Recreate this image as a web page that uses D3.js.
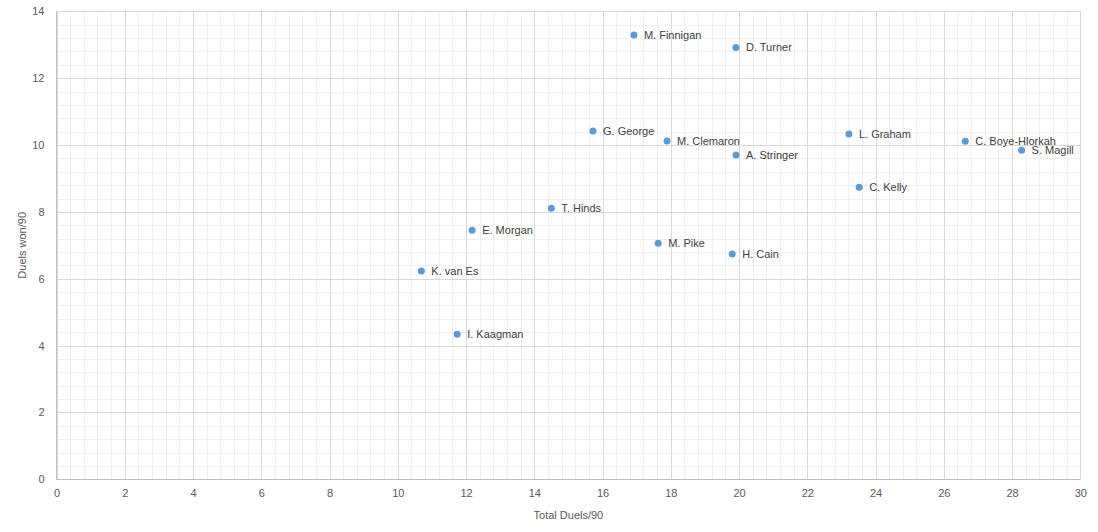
<!DOCTYPE html>
<html><head><meta charset="utf-8">
<script src="https://cdn.jsdelivr.net/npm/d3@7"></script>
<style>body{margin:0;background:#fff}svg{display:block}text{font-family:"Liberation Sans",Arial,sans-serif}</style>
</head><body><svg id="c" width="1098" height="532"></svg>
<script>
const players = ["M. Finnigan","D. Turner","G. George","M. Clemaron","A. Stringer","L. Graham","C. Boye-Hlorkah","S. Magill","C. Kelly","T. Hinds","E. Morgan","M. Pike","H. Cain","K. van Es","I. Kaagman"];
const totalDuels = [16.92,19.91,15.72,17.89,19.91,23.22,26.63,28.28,23.52,14.50,12.18,17.63,19.80,10.69,11.74];
const duelsWon = [13.29,12.92,10.42,10.12,9.70,10.33,10.11,9.84,8.74,8.11,7.45,7.06,6.74,6.23,4.34];
const xTicks = [0,2,4,6,8,10,12,14,16,18,20,22,24,26,28,30];
const yTicks = [0,2,4,6,8,10,12,14];
const xTitle = "Total Duels/90", yTitle = "Duels won/90";

const svg = d3.select("#c");
const L=56.5,R=1080.3,T=11.3,B=479.3;
const x = d3.scaleLinear().domain([0,30]).range([L,R]);
const y = d3.scaleLinear().domain([0,14]).range([B,T]);
const minorX = d3.range(0,30.001,0.4), minorY = d3.range(0,14.001,0.4);
const g = svg.append("g");
g.selectAll(".mx").data(minorX).join("line").attr("x1",d=>Math.round(x(d))+0.5).attr("x2",d=>Math.round(x(d))+0.5).attr("y1",T).attr("y2",B).attr("stroke","#f0f0f0");
g.selectAll(".my").data(minorY).join("line").attr("y1",d=>Math.round(y(d))+0.5).attr("y2",d=>Math.round(y(d))+0.5).attr("x1",L).attr("x2",R).attr("stroke","#f0f0f0");
g.selectAll(".Mx").data(xTicks).join("line").attr("x1",d=>Math.round(x(d))+0.5).attr("x2",d=>Math.round(x(d))+0.5).attr("y1",T).attr("y2",B).attr("stroke","#d9d9d9");
g.selectAll(".My").data(yTicks).join("line").attr("y1",d=>Math.round(y(d))+0.5).attr("y2",d=>Math.round(y(d))+0.5).attr("x1",L).attr("x2",R).attr("stroke","#d9d9d9");
g.append("line").attr("x1",L).attr("x2",L).attr("y1",T).attr("y2",B).attr("stroke","#bfbfbf");
g.append("line").attr("x1",L).attr("x2",R).attr("y1",Math.round(B)+0.5).attr("y2",Math.round(B)+0.5).attr("stroke","#bfbfbf");

const xa = svg.append("g").attr("transform",`translate(0,${B})`).call(d3.axisBottom(x).tickValues(xTicks).tickSize(0).tickPadding(10));
const ya = svg.append("g").attr("transform",`translate(${L},0)`).call(d3.axisLeft(y).tickValues(yTicks).tickSize(0).tickPadding(12));
[xa,ya].forEach(a=>{a.select(".domain").remove();a.selectAll("text").attr("fill","#595959").attr("font-size",11).attr("font-family","Liberation Sans, Arial, sans-serif");});

svg.append("text").attr("x",(L+R)/2).attr("y",519).attr("text-anchor","middle").attr("font-size",11).attr("fill","#595959").text(xTitle);
svg.append("text").attr("transform",`translate(26,${(T+B)/2}) rotate(-90)`).attr("text-anchor","middle").attr("font-size",11).attr("fill","#595959").text(yTitle);

const pts = svg.append("g");
pts.selectAll("circle").data(players).join("circle").attr("cx",(d,i)=>x(totalDuels[i])).attr("cy",(d,i)=>y(duelsWon[i])).attr("r",3.5).attr("fill","#5b9bd5");
pts.selectAll("text").data(players).join("text").attr("x",(d,i)=>x(totalDuels[i])+10).attr("y",(d,i)=>y(duelsWon[i])+4).attr("font-size",11).attr("fill","#404040").text(d=>d);
</script></body></html>
